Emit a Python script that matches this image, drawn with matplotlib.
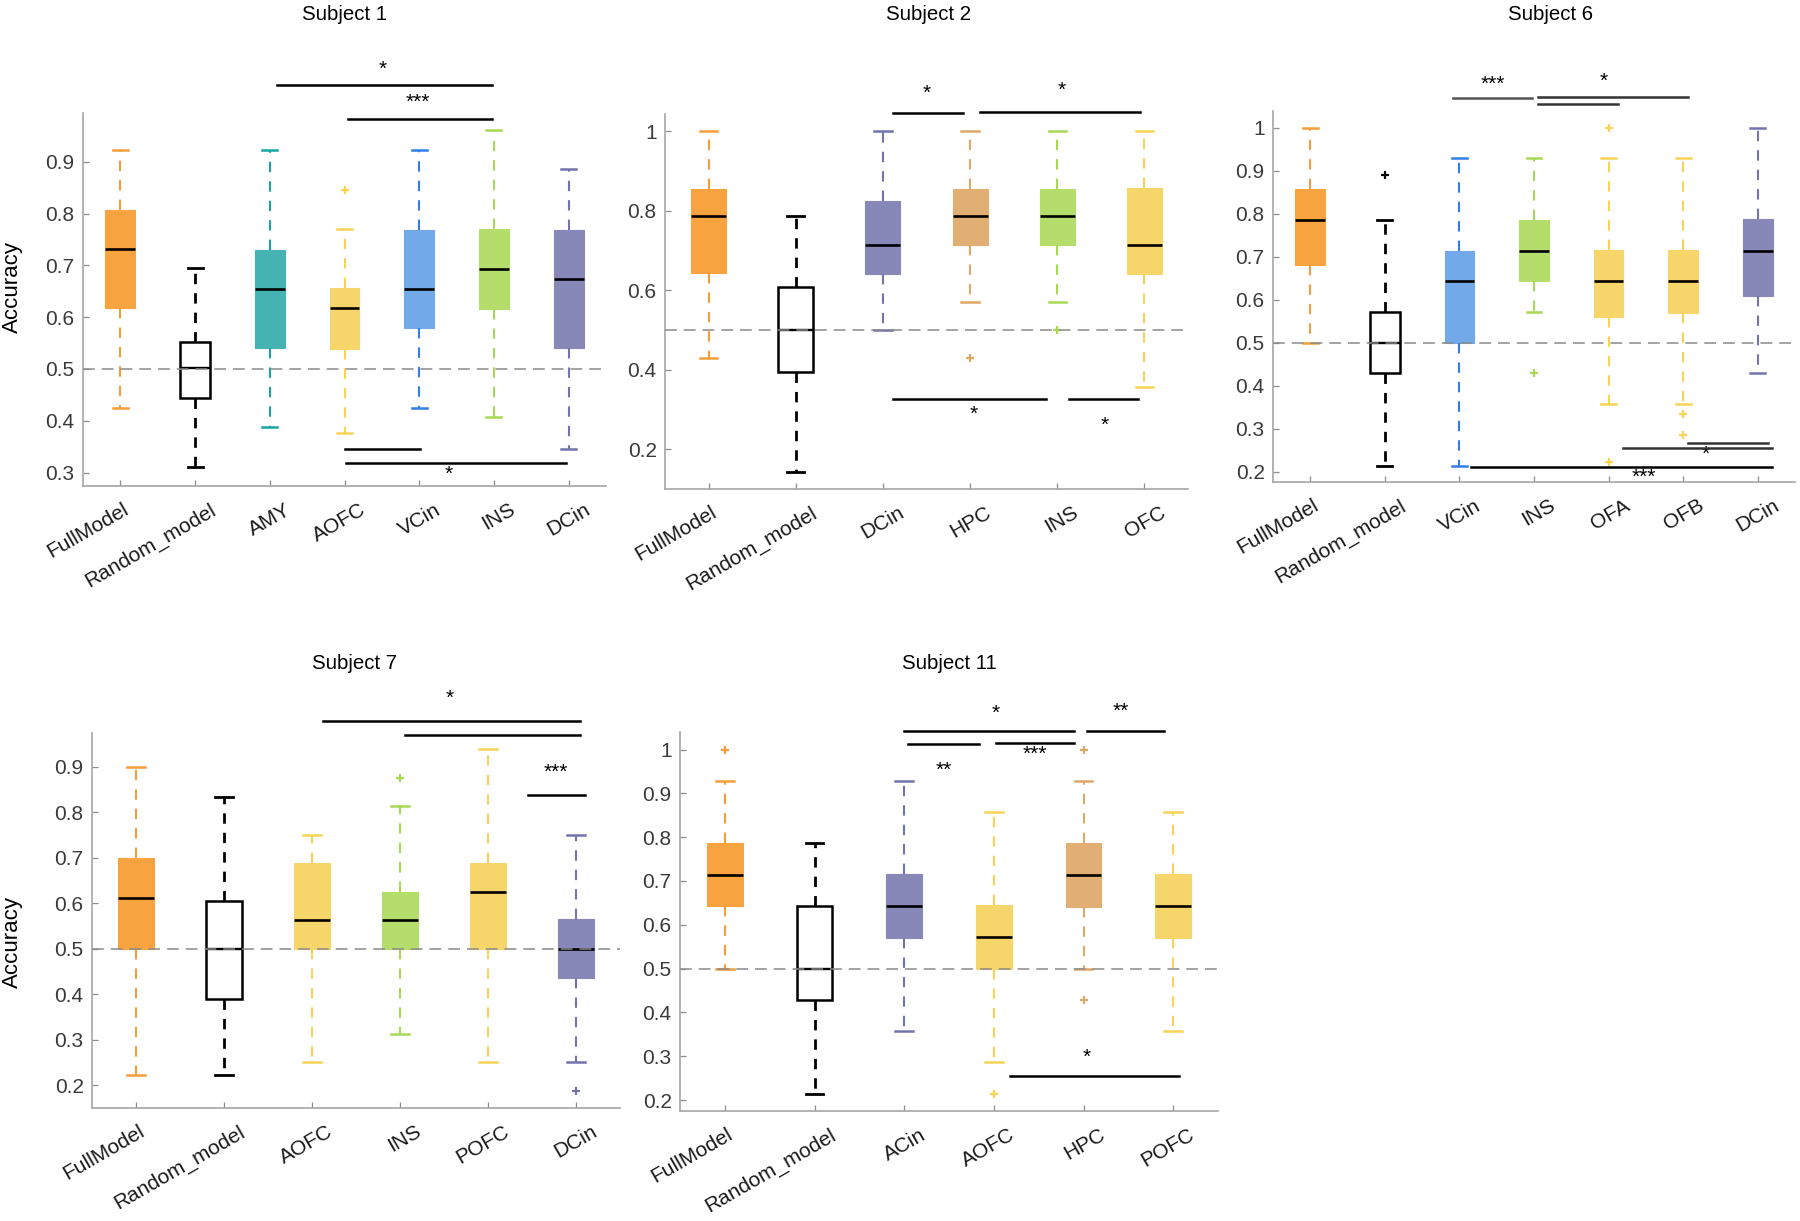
import matplotlib
matplotlib.use("Agg")
import matplotlib.pyplot as plt
from matplotlib.transforms import ScaledTranslation

plt.rcParams["font.family"] = ["Liberation Sans", "DejaVu Sans"]
plt.rcParams["lines.scale_dashes"] = False

W, H = 1800, 1221
ORANGE = ("#F7A33F", "#F59E38")
TEAL = ("#44B3B1", "#17A5A2")
YELLOW = ("#F6D66B", "#F8D358")
BLUE = ("#72A9E9", "#2E7FE7")
GREEN = ("#B5DD6B", "#A8D952")
PURPLE = ("#8787B8", "#7373AE")
TAN = ("#E1AE74", "#E0A868")
RAND = ("white", "black")

# ---------------- Subject 1
s1_labels = ["FullModel", "Random_model", "AMY", "AOFC", "VCin", "INS", "DCin"]
s1_colors = [ORANGE, RAND, TEAL, YELLOW, BLUE, GREEN, PURPLE]
s1_whishi = [0.923, 0.694, 0.923, 0.770, 0.923, 0.961, 0.885]
s1_q3 = [0.807, 0.551, 0.730, 0.656, 0.769, 0.771, 0.769]
s1_med = [0.732, 0.501, 0.655, 0.617, 0.655, 0.693, 0.674]
s1_q1 = [0.617, 0.444, 0.540, 0.539, 0.579, 0.615, 0.540]
s1_whislo = [0.425, 0.310, 0.387, 0.377, 0.425, 0.408, 0.346]
s1_fliers = [[], [], [], [0.846], [], [], []]
s1_bars = [(3.10, 5.98, 1.048), (4.05, 5.98, 0.982), (4.0, 5.01, 0.346), (4.02, 6.97, 0.318)]
s1_stars = [("*", 4.51, 1.082), ("***", 4.98, 1.018), ("*", 5.39, 0.300)]

# ---------------- Subject 2
s2_labels = ["FullModel", "Random_model", "DCin", "HPC", "INS", "OFC"]
s2_colors = [ORANGE, RAND, PURPLE, TAN, GREEN, YELLOW]
s2_whishi = [1.0, 0.786, 1.0, 1.0, 1.0, 1.0]
s2_q3 = [0.855, 0.608, 0.824, 0.855, 0.855, 0.858]
s2_med = [0.786, 0.5, 0.714, 0.786, 0.786, 0.714]
s2_q1 = [0.643, 0.393, 0.640, 0.714, 0.714, 0.641]
s2_whislo = [0.429, 0.143, 0.5, 0.571, 0.571, 0.357]
s2_fliers = [[], [], [], [0.429], [0.5], []]
s2_bars = [(3.12, 3.92, 1.045), (4.11, 5.95, 1.049), (3.11, 4.87, 0.326), (5.14, 5.93, 0.326)]
s2_stars = [("*", 3.5, 1.10), ("*", 5.05, 1.107), ("*", 4.04, 0.294), ("*", 5.54, 0.265)]

# ---------------- Subject 6
s6_labels = ["FullModel", "Random_model", "VCin", "INS", "OFA", "OFB", "DCin"]
s6_colors = [ORANGE, RAND, BLUE, GREEN, YELLOW, YELLOW, PURPLE]
s6_whishi = [1.0, 0.786, 0.929, 0.929, 0.929, 0.929, 1.0]
s6_q3 = [0.857, 0.571, 0.714, 0.786, 0.715, 0.715, 0.788]
s6_med = [0.786, 0.5, 0.643, 0.714, 0.643, 0.643, 0.714]
s6_q1 = [0.680, 0.430, 0.5, 0.643, 0.559, 0.570, 0.609]
s6_whislo = [0.5, 0.214, 0.214, 0.571, 0.357, 0.357, 0.429]
s6_fliers = [[], [0.889], [], [0.429], [1.0, 0.223], [0.335, 0.286], []]
s6_bars = [(2.91, 3.97, 1.070), (4.06, 6.06, 1.071), (4.06, 5.13, 1.056),
           (6.07, 7.14, 0.267), (5.19, 7.19, 0.256), (3.15, 7.19, 0.212)]
s6_stars = [("***", 3.45, 1.107), ("*", 4.94, 1.113), ("*", 6.30, 0.246), ("***", 5.47, 0.193)]

# ---------------- Subject 7
s7_labels = ["FullModel", "Random_model", "AOFC", "INS", "POFC", "DCin"]
s7_colors = [ORANGE, RAND, YELLOW, GREEN, YELLOW, PURPLE]
s7_whishi = [0.9, 0.833, 0.75, 0.813, 0.938, 0.75]
s7_q3 = [0.699, 0.605, 0.689, 0.624, 0.689, 0.565]
s7_med = [0.611, 0.5, 0.563, 0.563, 0.625, 0.5]
s7_q1 = [0.5, 0.389, 0.5, 0.5, 0.5, 0.436]
s7_whislo = [0.222, 0.222, 0.25, 0.313, 0.25, 0.25]
s7_fliers = [[], [], [], [0.875], [], [0.188]]
s7_bars = [(3.13, 6.05, 1.0), (4.06, 6.05, 0.969), (5.46, 6.10, 0.838)]
s7_stars = [("*", 4.56, 1.054), ("***", 5.77, 0.892)]

# ---------------- Subject 11
s11_labels = ["FullModel", "Random_model", "ACin", "AOFC", "HPC", "POFC"]
s11_colors = [ORANGE, RAND, PURPLE, YELLOW, TAN, YELLOW]
s11_whishi = [0.929, 0.786, 0.929, 0.857, 0.929, 0.857]
s11_q3 = [0.786, 0.643, 0.717, 0.645, 0.787, 0.716]
s11_med = [0.714, 0.5, 0.643, 0.571, 0.714, 0.643]
s11_q1 = [0.643, 0.429, 0.570, 0.5, 0.641, 0.570]
s11_whislo = [0.5, 0.214, 0.357, 0.286, 0.5, 0.357]
s11_fliers = [[1.0], [], [], [0.214], [1.0, 0.429], []]
s11_bars = [(3.0, 4.89, 1.042), (5.04, 5.90, 1.042), (3.04, 3.83, 1.013),
            (4.02, 4.89, 1.015), (4.18, 6.07, 0.256)]
s11_stars = [("*", 4.02, 1.087), ("**", 5.42, 1.092), ("**", 3.44, 0.958),
             ("***", 4.46, 0.993), ("*", 5.03, 0.302)]


def px_axes(fig, l, t, r, b):
    return fig.add_axes([l / W, 1 - b / H, (r - l) / W, (b - t) / H])


def panel(fig, box, title, title_xy, labels, colors, whishi, q3, med, q1, whislo,
          fliers, bars, stars, ylim, yticks, ylabel_xy=None, bar_colors=None):
    ax = px_axes(fig, *box)
    stats = [dict(whishi=a, q3=b, med=c, q1=d, whislo=e, fliers=f)
             for a, b, c, d, e, f in zip(whishi, q3, med, q1, whislo, fliers)]
    pos = list(range(1, len(stats) + 1))
    art = ax.bxp(stats, positions=pos, widths=0.4, patch_artist=True,
                 manage_ticks=False, capwidths=0.2)
    for i, (fc, lc) in enumerate(colors):
        rand = fc == "white"
        box_ = art["boxes"][i]
        box_.set_facecolor(fc)
        box_.set_edgecolor("black" if rand else fc)
        box_.set_linewidth(1.8 if rand else 0.8)
        art["medians"][i].set(color="black", linewidth=1.9 if not rand else 1.7)
        for w in art["whiskers"][2 * i:2 * i + 2]:
            w.set(color=lc, linewidth=2.0 if rand else 1.5, linestyle=(0, (7.5, 6.5)))
        for c in art["caps"][2 * i:2 * i + 2]:
            c.set(color=lc, linewidth=2.0 if rand else 1.8)
        art["fliers"][i].set(marker="+", markeredgecolor=lc, markersize=6,
                             markeredgewidth=1.6)
    ax.axhline(0.5, color="#8a8a8a", lw=1.1, ls=(0, (8.5, 5)), zorder=4)
    for j, (x1, x2, y) in enumerate(bars):
        c = bar_colors[j] if bar_colors else "black"
        ax.plot([x1, x2], [y, y], color=c, lw=1.8, clip_on=False, zorder=5)
    for s, x, y in stars:
        ax.annotate(s, xy=(x, y), xytext=(0, -5.5), textcoords="offset points",
                    ha="center", va="baseline", fontsize=15, annotation_clip=False)
    ax.set_xlim(0.5, len(stats) + 0.5)
    ax.set_ylim(*ylim)
    ax.set_yticks(yticks, [("%g" % v) for v in yticks])
    ax.set_xticks(pos, [""] * len(pos))
    # rotated category labels, end of text a little right of the tick (as in the original)
    for p, lab in zip(pos, labels):
        dx = 2 if p == 1 else 15
        tr = ax.get_xaxis_transform() + ScaledTranslation(dx / 100, -14 / 100,
                                                          fig.dpi_scale_trans)
        ax.text(p, 0, lab, transform=tr, rotation=30, ha="right", va="top",
                rotation_mode="anchor", fontsize=15, color="#1a1a1a")
    for sp in ("top", "right"):
        ax.spines[sp].set_visible(False)
    for sp in ("left", "bottom"):
        ax.spines[sp].set_color("#a6a6a6")
        ax.spines[sp].set_linewidth(1.2)
    ax.tick_params(direction="in", length=4, width=0.9, color="#8c8c8c",
                   labelsize=15, labelcolor="#3a3a3a", pad=6)
    if ylabel_xy:
        ax.set_ylabel("Accuracy", fontsize=16)
        ax.yaxis.set_label_coords(*ylabel_xy)
    fig.text(title_xy[0] / W, 1 - title_xy[1] / H, title, ha="center", va="center",
             fontsize=14.7)
    return ax


fig = plt.figure(figsize=(18, 12.21), dpi=100)
panel(fig, (83, 113, 606, 486), "Subject 1", (344, 14), s1_labels, s1_colors,
      s1_whishi, s1_q3, s1_med, s1_q1, s1_whislo, s1_fliers, s1_bars, s1_stars,
      (0.274, 0.994), [0.3, 0.4, 0.5, 0.6, 0.7, 0.8, 0.9], ylabel_xy=(-0.115, 0.534))
panel(fig, (665, 114, 1188, 489), "Subject 2", (929, 14), s2_labels, s2_colors,
      s2_whishi, s2_q3, s2_med, s2_q1, s2_whislo, s2_fliers, s2_bars, s2_stars,
      (0.10, 1.043), [0.2, 0.4, 0.6, 0.8, 1.0])
panel(fig, (1273, 111, 1795, 482), "Subject 6", (1551, 14), s6_labels, s6_colors,
      s6_whishi, s6_q3, s6_med, s6_q1, s6_whislo, s6_fliers, s6_bars, s6_stars,
      (0.176, 1.039), [0.2, 0.3, 0.4, 0.5, 0.6, 0.7, 0.8, 0.9, 1.0],
      bar_colors=["#555555", "#333333", "#333333", "#333333", "#333333", "black"])
panel(fig, (92, 733, 620, 1108), "Subject 7", (354, 664), s7_labels, s7_colors,
      s7_whishi, s7_q3, s7_med, s7_q1, s7_whislo, s7_fliers, s7_bars, s7_stars,
      (0.15, 0.974), [0.2, 0.3, 0.4, 0.5, 0.6, 0.7, 0.8, 0.9], ylabel_xy=(-0.131, 0.443))
panel(fig, (680, 732, 1218, 1111), "Subject 11", (949, 664), s11_labels, s11_colors,
      s11_whishi, s11_q3, s11_med, s11_q1, s11_whislo, s11_fliers, s11_bars,
      s11_stars, (0.175, 1.04), [0.2, 0.3, 0.4, 0.5, 0.6, 0.7, 0.8, 0.9, 1.0])

fig.savefig("out.png", dpi=100)
